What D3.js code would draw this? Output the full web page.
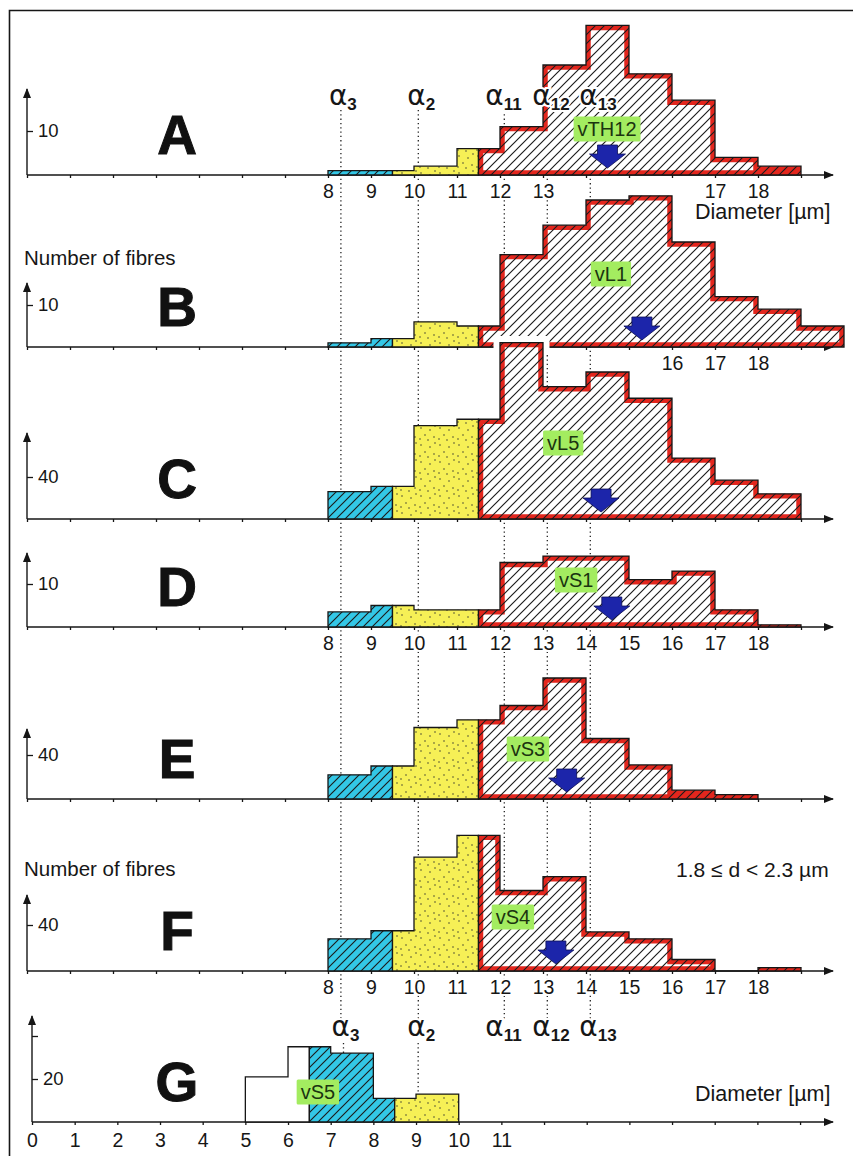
<!DOCTYPE html>
<html>
<head>
<meta charset="utf-8">
<script src="https://cdn.jsdelivr.net/npm/d3@7"></script>
<style>
  html, body { margin: 0; background: #fff; }
  svg { display: block; }
</style>
</head>
<body>
<svg id="chart" width="853" height="1156"></svg>
<script>
// ---------- data ----------
// Fibre-diameter histograms: bins of width 1 µm starting at the listed lower edges
const binStartsMain = [8, 9, 10, 11, 12, 13, 14, 15, 16, 17, 18, 19];
const countsA = [1, 1, 2, 6, 11, 25, 34, 23, 17, 4, 2];
const countsB = [1, 2, 6, 5, 22, 29, 35, 36, 25, 12, 9, 5];
const countsC = [26, 31, 89, 95, 168, 126, 140, 115, 58, 37, 24];
const countsD = [3.5, 5, 4, 4, 15, 16.5, 16.5, 11, 13, 4, 0.5];
const countsE = [22, 30, 65, 72, 85, 110, 55, 31, 8, 4];
const countsF = [28, 35, 99, 118, 70, 82, 34, 28, 10, 0, 3];
const binStartsG = [5, 6, 7, 8, 9];
const countsG = [21, 35, 32, 11, 13];

// class boundaries: [first, second, third] region start, last region runs to the final bin
const splitsMain = [8, 9.5, 11.5];
const splitsG = [5, 6.5, 8.5];

const panelNames = ["A", "B", "C", "D", "E", "F", "G"];
const sampleNames = ["vTH12", "vL1", "vL5", "vS1", "vS3", "vS4", "vS5"];
const meanDiameters = [14.5, 15.3, 14.35, 14.6, 13.55, 13.3]; // A–F
const yTickValues = [10, 10, 40, 10, 40, 40, 20];

const alphaSubs = ["3", "2", "11", "12", "13"];
const alphaDiameters = [8.3, 10.1, 12.1, 13.1, 14.1];
const alphaSubsG = ["3", "2"];
const alphaDiametersG = [7.3, 9.05];

const tickLabelsA = [8, 9, 10, 11, 12, 13, 17, 18];
const tickLabelsB = [16, 17, 18];
const tickLabelsD = [8, 9, 10, 11, 12, 13, 14, 15, 16, 17, 18];
const tickLabelsF = [8, 9, 10, 11, 12, 13, 14, 15, 16, 17, 18];
const tickLabelsG = [0, 1, 2, 3, 4, 5, 6, 7, 8, 9, 10, 11];

// ---------- layout ----------
const FONT = "'Liberation Sans', Arial, Helvetica, sans-serif";
const INK = "#161616";
const CYAN = "#33c7e6", YELLOW = "#f6f056", RED = "#e3261d";
const ARROW_BLUE = "#1c25aa", TAG_GREEN = "#a3ec60";
const AXIS_END = 833;

const panelLayout = [
  { base: 175,  tickPx: 44, axisTop: 89,   tagX: 14.49, tagDy: 46, labelPad: 9 },
  { base: 347,  tickPx: 42, axisTop: 283,  tagX: 14.58, tagDy: 73, labelPad: 9 },
  { base: 519,  tickPx: 42, axisTop: 433,  tagX: 13.47, tagDy: 76, labelPad: 9 },
  { base: 627,  tickPx: 43, axisTop: 553,  tagX: 13.77, tagDy: 47, labelPad: 9 },
  { base: 799,  tickPx: 44, axisTop: 729,  tagX: 12.65, tagDy: 50, labelPad: 9 },
  { base: 971,  tickPx: 46, axisTop: 895,  tagX: 12.3,  tagDy: 54, labelPad: 9 },
  { base: 1122, tickPx: 43, axisTop: 1016, tagX: 6.7,   tagDy: 30, labelPad: 11 }
];

const xMain = d3.scaleLinear().domain([1, 20]).range([27, 27 + 19 * 43]);
const xG = d3.scaleLinear().domain([0, 19]).range([32, 32 + 19 * 42.67]);

const panels = [
  { counts: countsA, starts: binStartsMain, splits: splitsMain, kinds: ["blue", "yellow", "red"], ticks: tickLabelsA },
  { counts: countsB, starts: binStartsMain, splits: splitsMain, kinds: ["blue", "yellow", "red"], ticks: tickLabelsB },
  { counts: countsC, starts: binStartsMain, splits: splitsMain, kinds: ["blue", "yellow", "red"], ticks: [] },
  { counts: countsD, starts: binStartsMain, splits: splitsMain, kinds: ["blue", "yellow", "red"], ticks: tickLabelsD },
  { counts: countsE, starts: binStartsMain, splits: splitsMain, kinds: ["blue", "yellow", "red"], ticks: [] },
  { counts: countsF, starts: binStartsMain, splits: splitsMain, kinds: ["blue", "yellow", "red"], ticks: tickLabelsF },
  { counts: countsG, starts: binStartsG, splits: splitsG, kinds: ["plain", "blue", "yellow"], ticks: tickLabelsG }
];

const svg = d3.select("#chart");
svg.append("rect").attr("width", 853).attr("height", 1156).attr("fill", "#fff");

// ---------- patterns and markers ----------
const defs = svg.append("defs");
const hatch = defs.append("pattern").attr("id", "hatch")
  .attr("patternUnits", "userSpaceOnUse").attr("width", 9).attr("height", 9);
hatch.append("path").attr("d", "M-1,1 L1,-1 M0,9 L9,0 M8,10 L10,8")
  .attr("stroke", "#1b1b1b").attr("stroke-width", 1.15);

const dots = defs.append("pattern").attr("id", "dots")
  .attr("patternUnits", "userSpaceOnUse").attr("width", 19).attr("height", 17);
dots.append("rect").attr("width", 19).attr("height", 17).attr("fill", YELLOW);
[[3, 3], [12, 5], [7, 10], [16, 12], [2, 14], [10, 15], [17, 1]].forEach(([cx, cy]) =>
  dots.append("circle").attr("cx", cx).attr("cy", cy).attr("r", 0.8).attr("fill", "#4a4a30"));

defs.append("marker").attr("id", "arrowhead")
  .attr("viewBox", "0 0 10 8").attr("refX", 9).attr("refY", 4)
  .attr("markerWidth", 11).attr("markerHeight", 8)
  .attr("markerUnits", "userSpaceOnUse").attr("orient", "auto")
  .append("path").attr("d", "M0,0 L10,4 L0,8 Z").attr("fill", INK);

// ---------- frame ----------
svg.append("path").attr("d", "M9.5,1156 V10.5 H853")
  .attr("fill", "none").attr("stroke", INK).attr("stroke-width", 1.6);

// ---------- dotted class-limit lines ----------
const guides = svg.append("g").attr("stroke", "#222").attr("stroke-width", 1.3)
  .attr("stroke-dasharray", "1.3,3");
alphaDiameters.forEach(d => {
  guides.append("line").attr("x1", xMain(d)).attr("x2", xMain(d)).attr("y1", 110).attr("y2", 1021);
});
alphaDiametersG.forEach(d => {
  guides.append("line").attr("x1", xG(d)).attr("x2", xG(d)).attr("y1", 1043).attr("y2", 1122);
});

// ---------- helpers ----------
function regionPoints(starts, counts, a, b) {
  const pts = [[a, 0]];
  starts.forEach((s, i) => {
    if (i >= counts.length) return;
    const lo = Math.max(s, a), hi = Math.min(s + 1, b);
    if (hi <= lo) return;
    pts.push([lo, counts[i]], [hi, counts[i]]);
  });
  pts.push([b, 0]);
  return pts;
}

let clipId = 0;
function drawRegion(g, pathD, kind) {
  if (kind === "red") {
    const id = "clip" + (clipId++);
    g.append("clipPath").attr("id", id).append("path").attr("d", pathD);
    g.append("path").attr("d", pathD).attr("fill", "#fff");
    g.append("path").attr("d", pathD).attr("fill", "none")
      .attr("stroke", RED).attr("stroke-width", 9.5).attr("clip-path", `url(#${id})`);
    g.append("path").attr("d", pathD).attr("fill", "url(#hatch)");
  } else if (kind === "blue") {
    g.append("path").attr("d", pathD).attr("fill", CYAN);
    g.append("path").attr("d", pathD).attr("fill", "url(#hatch)");
  } else if (kind === "yellow") {
    g.append("path").attr("d", pathD).attr("fill", "url(#dots)");
  } else {
    g.append("path").attr("d", pathD).attr("fill", "#fff");
  }
  g.append("path").attr("d", pathD).attr("fill", "none")
    .attr("stroke", INK).attr("stroke-width", 1.3).attr("stroke-linejoin", "miter");
}

function styleAxisText(sel, size) {
  sel.select(".domain").remove();
  sel.attr("font-family", FONT).attr("font-size", size);
  sel.selectAll("line").attr("stroke", INK).attr("stroke-width", 1.3);
  sel.selectAll("text").attr("fill", INK);
}

// ---------- panels ----------
panels.forEach((P, i) => {
  const L = panelLayout[i];
  const x = i < 6 ? xMain : xG;
  const xStart = x.domain()[0];
  const y = d3.scaleLinear().domain([0, yTickValues[i]]).range([L.base, L.base - L.tickPx]);
  const g = svg.append("g").attr("class", "panel-" + panelNames[i]);

  // axes with arrow heads
  g.append("line").attr("x1", x(xStart)).attr("x2", AXIS_END)
    .attr("y1", L.base).attr("y2", L.base)
    .attr("stroke", INK).attr("stroke-width", 1.4).attr("marker-end", "url(#arrowhead)");
  g.append("line").attr("x1", x(xStart)).attr("x2", x(xStart))
    .attr("y1", L.base).attr("y2", L.axisTop)
    .attr("stroke", INK).attr("stroke-width", 1.4).attr("marker-end", "url(#arrowhead)");

  // x tick marks
  const tickVals = i < 6 ? d3.range(1, 20) : d3.range(0, 19);
  g.append("g").attr("transform", `translate(0,${L.base})`)
    .call(d3.axisBottom(x).tickValues(tickVals).tickSize(3).tickFormat(""))
    .call(s => styleAxisText(s, 19));

  // y tick
  const yTicks = i === 6 ? [yTickValues[i], yTickValues[i] * 2] : [yTickValues[i]];
  g.append("g").attr("transform", `translate(${x(xStart)},0)`)
    .call(d3.axisRight(y).tickValues(yTicks).tickSize(6).tickPadding(5)
      .tickFormat(v => v === yTickValues[i] ? d3.format("d")(v) : ""))
    .call(s => styleAxisText(s, 18.5));

  // bars, split into the three diameter classes
  const lastEdge = P.starts[P.counts.length - 1] + 1;
  const bounds = [...P.splits, lastEdge];
  const line = d3.line().x(d => x(d[0])).y(d => y(d[1]));

  // panel C's tallest bar rises into panel B: keep a white gap around it there
  if (i === 2) {
    const redPath = line(regionPoints(P.starts, P.counts, bounds[2], bounds[3])) + "Z";
    const hid = "haloClip";
    defs.append("clipPath").attr("id", hid).append("rect")
      .attr("x", 0).attr("y", 0).attr("width", 853).attr("height", panelLayout[1].base + 5);
    g.append("path").attr("d", redPath).attr("fill", "#fff")
      .attr("stroke", "#fff").attr("stroke-width", 13).attr("clip-path", `url(#${hid})`);
  }

  P.kinds.forEach((kind, k) => {
    const pts = regionPoints(P.starts, P.counts, bounds[k], bounds[k + 1]);
    drawRegion(g, line(pts) + "Z", kind);
  });

  // tick labels with white halo
  if (P.ticks.length) {
    g.append("g").attr("transform", `translate(0,${L.base})`)
      .call(d3.axisBottom(x).tickValues(P.ticks).tickSize(0).tickPadding(L.labelPad).tickFormat(d3.format("d")))
      .call(s => styleAxisText(s, 19.5))
      .selectAll("text")
      .attr("stroke", "#fff").attr("stroke-width", 4).attr("paint-order", "stroke");
  }

  // mean-diameter arrow
  if (i < 6) {
    const cx = x(meanDiameters[i]);
    const tip = L.base - 7;
    const pts = [
      [cx - 10, tip - 23], [cx + 10, tip - 23], [cx + 10, tip - 14],
      [cx + 18, tip - 14], [cx, tip], [cx - 18, tip - 14], [cx - 10, tip - 14]
    ];
    g.append("path").attr("d", d3.line()(pts) + "Z")
      .attr("fill", ARROW_BLUE).attr("stroke", "#0c0f55").attr("stroke-width", 0.8);
  }

  // sample tag
  const tag = g.append("g").attr("transform", `translate(${x(L.tagX)},${L.base - L.tagDy})`);
  const tRect = tag.append("rect").attr("fill", TAG_GREEN).attr("rx", 1.5);
  const tText = tag.append("text").text(sampleNames[i])
    .attr("font-family", FONT).attr("font-size", 20).attr("fill", "#1b3410")
    .attr("text-anchor", "middle").attr("dy", "0.36em");
  const tw = tText.node().getComputedTextLength();
  tRect.attr("x", -tw / 2 - 4).attr("y", -12.5).attr("width", tw + 8).attr("height", 25);

  // panel letter
  svg.append("text").text(panelNames[i])
    .attr("x", 177).attr("y", L.base - 21)
    .attr("text-anchor", "middle")
    .attr("font-family", FONT).attr("font-weight", "bold").attr("font-size", 55)
    .attr("fill", "#111").attr("stroke", "#111").attr("stroke-width", 1);
});

// ---------- class-limit labels ----------
const alphaOffsets = [-12, -11, -19, -15, -11];
function alphaLabel(xLine, off, sub, yBase) {
  const t = svg.append("text")
    .attr("x", xLine + off).attr("y", yBase)
    .attr("font-family", FONT).attr("fill", INK)
    .attr("stroke", "#fff").attr("stroke-width", 4).attr("paint-order", "stroke");
  t.append("tspan").text("α").attr("font-family", "'DejaVu Sans', sans-serif").attr("font-size", 28);
  t.append("tspan").text(sub).attr("font-size", 17).attr("font-weight", "bold").attr("dy", 5);
}
alphaDiameters.forEach((d, k) => alphaLabel(xMain(d), alphaOffsets[k], alphaSubs[k], 105));
alphaDiameters.forEach((d, k) => { if (k >= 2) alphaLabel(xMain(d), alphaOffsets[k], alphaSubs[k], 1036); });
alphaDiametersG.forEach((d, k) => alphaLabel(xG(d), alphaOffsets[k], alphaSubsG[k], 1036));

// ---------- axis titles and notes ----------
function note(txt, x, y, size) {
  svg.append("text").text(txt).attr("x", x).attr("y", y)
    .attr("font-family", FONT).attr("font-size", size).attr("fill", INK);
}
note("Number of fibres", 24, 265, 20.5);
note("Number of fibres", 24, 876, 20.5);
note("Diameter [µm]", 695, 219, 21.5);
note("Diameter [µm]", 695, 1101, 21.5);
note("1.8 ≤ d < 2.3 µm", 676, 877, 21);
</script>
</body>
</html>
